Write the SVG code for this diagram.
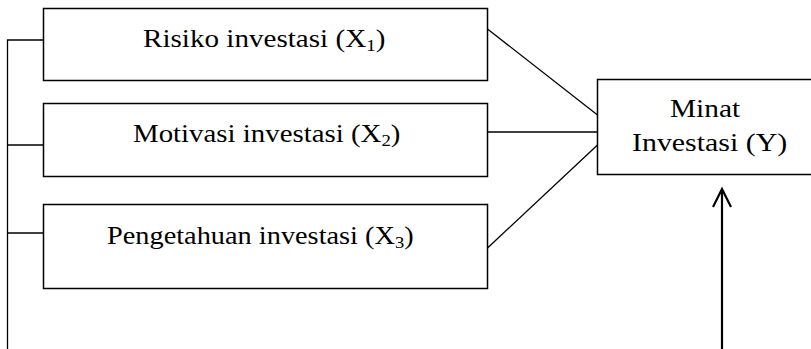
<svg xmlns="http://www.w3.org/2000/svg" width="811" height="349" viewBox="0 0 811 349">
<defs>
<style>
.box{fill:#fff;stroke:#000;stroke-width:1.5}
.ln{stroke:#000;stroke-width:1.3;fill:none}
.arr{stroke:#000;stroke-width:2.2;fill:none}
.t{font-family:"Liberation Serif","Times New Roman",serif;font-size:26px;fill:#000}
.sub{font-size:17px}
</style>
</defs>
<rect width="811" height="349" fill="#fff"/>
<g id="connectors">
<polyline class="ln" points="43.5,40 7.5,40 7.5,350"/>
<line class="ln" x1="7.5" y1="145" x2="43.5" y2="145"/>
<line class="ln" x1="7.5" y1="233" x2="43.5" y2="233"/>
<line class="ln" x1="487.5" y1="29" x2="597.5" y2="115"/>
<line class="ln" x1="487.5" y1="132" x2="597.5" y2="132"/>
<line class="ln" x1="487.5" y1="248" x2="597.5" y2="145"/>
<line class="arr" x1="722" y1="350" x2="722" y2="190"/>
<polyline class="arr" points="713,207 722,189 731,207"/>
</g>
<g id="x1">
<rect class="box" x="43.5" y="8.5" width="444" height="72"/>
<text class="t" transform="translate(143,47) scale(1.12,1)">Risiko investasi (X<tspan class="sub" dy="4">1</tspan><tspan dy="-4">)</tspan></text>
</g>
<g id="x2">
<rect class="box" x="43.5" y="103.5" width="444" height="73"/>
<text class="t" transform="translate(133,142) scale(1.11,1)">Motivasi investasi (X<tspan class="sub" dy="4">2</tspan><tspan dy="-4">)</tspan></text>
</g>
<g id="x3">
<rect class="box" x="43.5" y="204.5" width="444" height="84"/>
<text class="t" transform="translate(107,244) scale(1.09,1)">Pengetahuan investasi (X<tspan class="sub" dy="4">3</tspan><tspan dy="-4">)</tspan></text>
</g>
<g id="y">
<rect class="box" x="597.5" y="79.5" width="230" height="95"/>
<text class="t" transform="translate(670,117) scale(1.13,1)">Minat</text>
<text class="t" transform="translate(632,151) scale(1.15,1)">Investasi (Y)</text>
</g>
</svg>
